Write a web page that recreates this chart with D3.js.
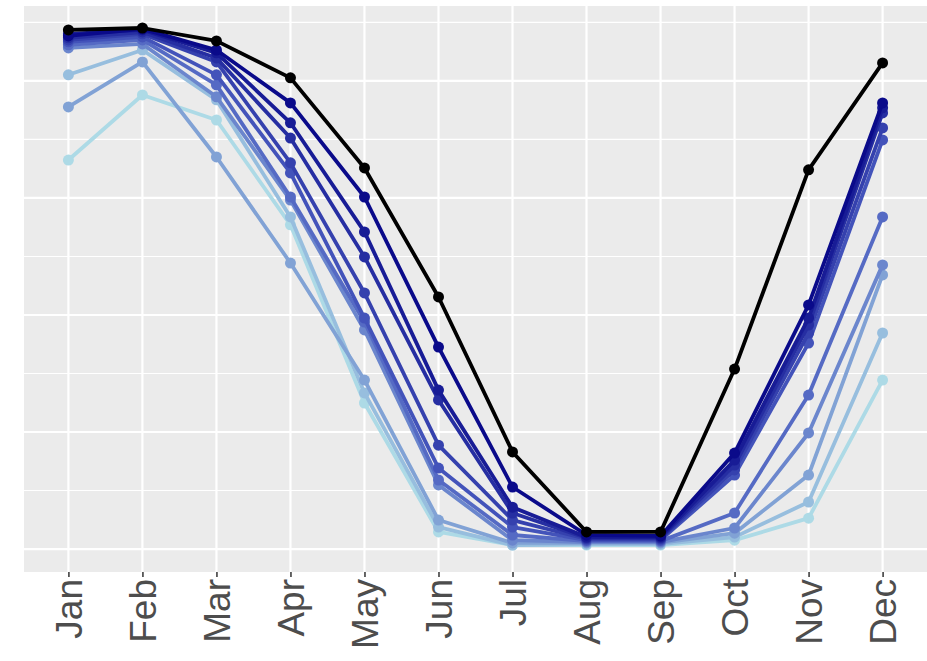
<!DOCTYPE html>
<html>
<head>
<meta charset="utf-8">
<script src="https://cdn.jsdelivr.net/npm/d3@7"></script>
<style>
  body { margin: 0; background: #ffffff; }
  svg { display: block; font-family: "Liberation Sans", Arial, Helvetica, sans-serif; }
</style>
</head>
<body>
<svg id="chart" width="927" height="661"></svg>
<script>
// ---------- data ----------
const months = ["Jan","Feb","Mar","Apr","May","Jun","Jul","Aug","Sep","Oct","Nov","Dec"];
const yMajorTicks = [0, 5, 10, 15, 20];
const yMinorTicks = [2.5, 7.5, 12.5, 17.5, 22.5];

// black reference line
const refLine = [22.18, 22.26, 21.71, 20.13, 16.28, 10.77, 4.15, 0.73, 0.73, 7.69, 16.20, 20.77];

// blue series, darkest -> lightest
const blue1  = [21.92, 22.22, 21.32, 19.06, 15.04, 8.63, 2.65, 0.60, 0.56, 4.10, 10.43, 19.06];
const blue2  = [22.01, 22.18, 21.20, 18.21, 13.55, 6.79, 1.79, 0.51, 0.51, 3.80, 9.87, 18.85];
const blue3  = [21.84, 22.09, 20.98, 17.56, 12.48, 6.37, 1.54, 0.47, 0.47, 3.59, 9.57, 18.63];
const blue4  = [21.75, 22.01, 20.81, 16.50, 10.94, 4.44, 1.24, 0.43, 0.43, 3.38, 9.23, 17.99];
const blue5  = [21.67, 21.88, 20.26, 16.07, 9.87, 3.46, 0.94, 0.38, 0.38, 3.16, 8.80, 17.48];
const blue6  = [21.54, 21.75, 19.83, 15.04, 9.70, 2.95, 0.60, 0.34, 0.34, 1.54, 6.58, 14.19];
const blue7  = [21.41, 21.58, 19.32, 14.91, 9.36, 2.74, 0.38, 0.30, 0.30, 0.90, 4.96, 12.14];
const blue8  = [18.89, 20.81, 16.75, 12.22, 7.22, 1.24, 0.26, 0.26, 0.26, 0.68, 3.16, 11.71];
const blue9  = [20.26, 21.32, 19.19, 14.19, 6.67, 0.94, 0.17, 0.21, 0.21, 0.51, 2.01, 9.23];
const blue10 = [16.62, 19.40, 18.33, 13.85, 6.24, 0.73, 0.17, 0.17, 0.17, 0.38, 1.32, 7.22];

const blueSeries = [blue1, blue2, blue3, blue4, blue5, blue6, blue7, blue8, blue9, blue10];

// colour ramp stops (darkest -> lightest)
const rampStops = ["#0A0A8A", "#4A5CC0", "#ADDAE6"];

// ---------- layout ----------
const svg = d3.select("#chart");
const panel = { left: 24, right: 927, top: 6, bottom: 572 };

const x = d3.scalePoint().domain(months).range([panel.left, panel.right]).padding(0.6);
const y = d3.scaleLinear().domain([-0.98, 23.2]).range([panel.bottom, panel.top]);

const nS = blueSeries.length - 1;
const colour = d3.scaleLinear()
  .domain([0, nS / 2, nS])
  .range(rampStops)
  .interpolate(d3.interpolateRgb);

// panel background
svg.append("rect")
  .attr("x", panel.left).attr("y", panel.top)
  .attr("width", panel.right - panel.left).attr("height", panel.bottom - panel.top)
  .attr("fill", "#EBEBEB");

const grid = svg.append("g");
grid.selectAll("line.minor").data(yMinorTicks).join("line")
  .attr("class", "minor")
  .attr("x1", panel.left).attr("x2", panel.right)
  .attr("y1", d => y(d)).attr("y2", d => y(d))
  .attr("stroke", "#ffffff").attr("stroke-width", 1.1);
grid.selectAll("line.major").data(yMajorTicks).join("line")
  .attr("class", "major")
  .attr("x1", panel.left).attr("x2", panel.right)
  .attr("y1", d => y(d)).attr("y2", d => y(d))
  .attr("stroke", "#ffffff").attr("stroke-width", 2.2);
grid.selectAll("line.vert").data(months).join("line")
  .attr("class", "vert")
  .attr("x1", d => x(d)).attr("x2", d => x(d))
  .attr("y1", panel.top).attr("y2", panel.bottom)
  .attr("stroke", "#ffffff").attr("stroke-width", 2.2);

// lines
const line = d3.line().x((d, i) => x(months[i])).y(d => y(d));

const drawSeries = (vals, col) => {
  const g = svg.append("g");
  g.append("path").datum(vals)
    .attr("d", line)
    .attr("fill", "none")
    .attr("stroke", col)
    .attr("stroke-width", 3.8)
    .attr("stroke-linejoin", "round");
  g.selectAll("circle").data(vals).join("circle")
    .attr("cx", (d, i) => x(months[i]))
    .attr("cy", d => y(d))
    .attr("r", 5.5)
    .attr("fill", col);
};

// lightest first, darkest last, reference on top
for (let i = blueSeries.length - 1; i >= 0; i--) {
  drawSeries(blueSeries[i], colour(i));
}
drawSeries(refLine, "#000000");

// x axis
const xAxis = d3.axisBottom(x).tickSize(5).tickPadding(4);
const ax = svg.append("g")
  .attr("transform", `translate(0,${panel.bottom})`)
  .call(xAxis);
ax.select(".domain").remove();
ax.selectAll(".tick line").attr("stroke", "#333333").attr("stroke-width", 1.5);
ax.selectAll(".tick text")
  .attr("fill", "#4D4D4D")
  .attr("font-size", 37)
  .attr("text-anchor", "end")
  .attr("transform", "rotate(-90)")
  .attr("x", -7)
  .attr("y", 0)
  .attr("dy", "0.35em");
</script>
</body>
</html>
